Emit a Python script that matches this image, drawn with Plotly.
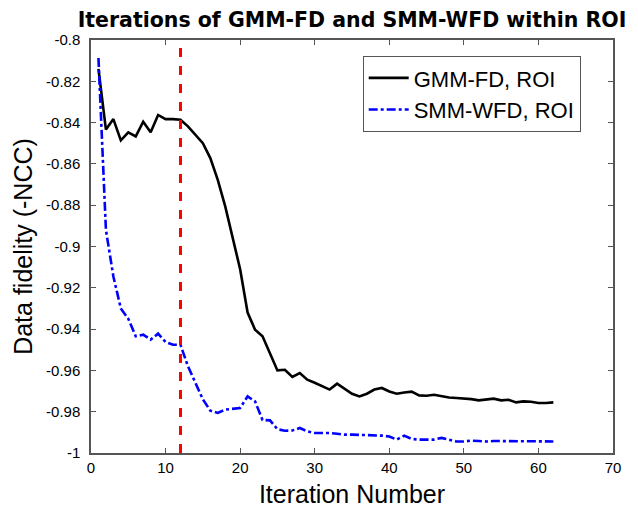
import plotly.graph_objects as go

ITERATIONS = list(range(1, 63))

GMM_FD_ROI = [
    -0.814, -0.8434, -0.8383, -0.8486, -0.8447, -0.8467, -0.8396, -0.8447, -0.8363, -0.8383,
    -0.8383, -0.8386, -0.8418, -0.8459, -0.8500, -0.8572, -0.8677, -0.8806, -0.8960, -0.9110,
    -0.9320, -0.9403, -0.9435, -0.9520, -0.9600, -0.9597, -0.9632, -0.9613, -0.9645, -0.9660,
    -0.9675, -0.9693, -0.9664, -0.9690, -0.9713, -0.9726, -0.9713, -0.9693, -0.9685, -0.9702,
    -0.9713, -0.9707, -0.9703, -0.9721, -0.9723, -0.9718, -0.9726, -0.9731, -0.9734, -0.9736,
    -0.9739, -0.9745, -0.9742, -0.9737, -0.9745, -0.9742, -0.9755, -0.9750, -0.9752, -0.9758,
    -0.9758, -0.9755,
]

SMM_WFD_ROI = [
    -0.8087, -0.8920, -0.9145, -0.9300, -0.9350, -0.9435, -0.9427, -0.9451, -0.9422, -0.9462,
    -0.9476, -0.9476, -0.9580, -0.9660, -0.9740, -0.9795, -0.9806, -0.9790, -0.9785, -0.9782,
    -0.9726, -0.9750, -0.9840, -0.9842, -0.9885, -0.9892, -0.9891, -0.9879, -0.9895, -0.9903,
    -0.9903, -0.9903, -0.9907, -0.9911, -0.9911, -0.9912, -0.9913, -0.9915, -0.9916, -0.9920,
    -0.9935, -0.9916, -0.9932, -0.9935, -0.9935, -0.9935, -0.9927, -0.9935, -0.9944, -0.9944,
    -0.9940, -0.9942, -0.9944, -0.9942, -0.9942, -0.9943, -0.9944, -0.9944, -0.9944, -0.9943,
    -0.9943, -0.9944,
]

SWITCH_ITER = 12

X_TICKS = [0, 10, 20, 30, 40, 50, 60, 70]
X_TICK_TEXT = ["0", "10", "20", "30", "40", "50", "60", "70"]
Y_TICKS = [-1.0, -0.98, -0.96, -0.94, -0.92, -0.9, -0.88, -0.86, -0.84, -0.82, -0.8]
Y_TICK_TEXT = ["-1", "-0.98", "-0.96", "-0.94", "-0.92", "-0.9", "-0.88", "-0.86", "-0.84", "-0.82", "-0.8"]

FONT = "Liberation Sans, Arial, sans-serif"
TITLE_FONT = "DejaVu Sans, Liberation Sans, sans-serif"
AXIS_COLOR = "#555555"

fig = go.Figure()

fig.add_trace(go.Scatter(
    x=ITERATIONS, y=GMM_FD_ROI, mode="lines", name="GMM-FD, ROI",
    line=dict(color="black", width=2.6),
))
fig.add_trace(go.Scatter(
    x=ITERATIONS, y=SMM_WFD_ROI, mode="lines", name="SMM-WFD, ROI",
    line=dict(color="#0000ff", width=2.6, dash="dashdot"),
))

fig.add_vline(x=SWITCH_ITER, line=dict(color="#ff0000", width=3, dash="dash"))

axis_common = dict(
    showline=True, linecolor=AXIS_COLOR, linewidth=1.5, mirror="ticks",
    ticks="inside", ticklen=5, tickcolor=AXIS_COLOR, tickwidth=1,
    showgrid=False, zeroline=False, automargin=False,
    tickfont=dict(family=FONT, size=15, color="black"),
)

fig.update_layout(
    width=638, height=508,
    margin=dict(l=91, r=25, t=40, b=55),
    paper_bgcolor="white", plot_bgcolor="white",
    title=dict(
        text="<b>Iterations of GMM-FD and SMM-WFD within ROI</b>",
        font=dict(family=TITLE_FONT, size=20.5, color="black"),
        x=0.5, xref="paper", xanchor="center", y=0.96, yanchor="middle",
    ),
    xaxis=dict(
        range=[-0.0001, 70], tickvals=X_TICKS, ticktext=X_TICK_TEXT,
        title=dict(text="Iteration Number", font=dict(family=FONT, size=25, color="black"), standoff=12),
        **axis_common,
    ),
    yaxis=dict(
        range=[-1.0, -0.8], tickvals=Y_TICKS, ticktext=Y_TICK_TEXT, ticklabelstandoff=6,
        title=dict(text="Data fidelity (-NCC)", font=dict(family=FONT, size=25, color="black"), standoff=6),
        **axis_common,
    ),
    legend=dict(
        x=0.5205, y=0.961, xanchor="left", yanchor="top",
        bordercolor=AXIS_COLOR, borderwidth=1, bgcolor="white",
        font=dict(family=FONT, size=22, color="black"),
        tracegroupgap=0, itemwidth=40,
    ),
)

# page body has a default 8px margin; drop it so the figure fills the window
fig.write_html(
    "out.html",
    config={"displayModeBar": False},
    post_script="document.body.style.margin = '0';",
)
